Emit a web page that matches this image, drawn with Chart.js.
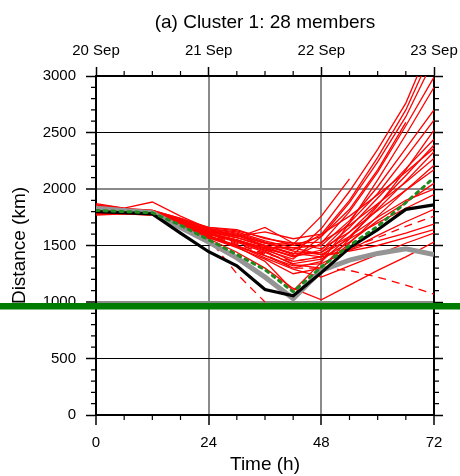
<!DOCTYPE html>
<html>
<head>
<meta charset="utf-8">
<script src="https://cdn.jsdelivr.net/npm/chart.js@4.4.1/dist/chart.umd.min.js"></script>
<style>
  html, body { margin: 0; padding: 0; background: #fff; }
</style>
</head>
<body>
<canvas id="chart" width="460" height="476"></canvas>
<script>
'use strict';

// forecast hours and the dates on the top axis
const hours = [0, 6, 12, 18, 24, 30, 36, 42, 48, 54, 60, 66, 72];
const dayLabels = ['20 Sep', '21 Sep', '22 Sep', '23 Sep'];
const threshold = 962;

// ensemble members of cluster 1 (km)
const members = [
  [1830, 1810, 1800, 1730, 1640, 1590, 1500, 1420, 1650, 1980, 2350, 2760, 3350],
  [1860, 1820, 1810, 1740, 1650, 1610, 1530, 1460, 1600, 1900, 2280, 2700, 3250],
  [1800, 1790, 1790, 1710, 1600, 1540, 1460, 1380, 1580, 1880, 2240, 2640, 3150],
  [1820, 1800, 1790, 1720, 1620, 1570, 1490, 1400, 1520, 1800, 2150, 2560, 2990],
  [1870, 1830, 1885, 1760, 1650, 1620, 1540, 1480, 1500, 1720, 2020, 2360, 2700],
  [1780, 1780, 1780, 1700, 1600, 1550, 1480, 1400, 1460, 1700, 1960, 2280, 2610],
  [1840, 1810, 1800, 1720, 1630, 1590, 1500, 1430, 1440, 1660, 1920, 2180, 2440],
  [1810, 1800, 1780, 1700, 1610, 1550, 1470, 1360, 1400, 1620, 1860, 2120, 2390],
  [1790, 1790, 1790, 1700, 1580, 1500, 1410, 1300, 1360, 1580, 1820, 2070, 2330],
  [1850, 1820, 1810, 1730, 1660, 1640, 1560, 1520, 1530, 1680, 1870, 2060, 2270],
  [1800, 1780, 1770, 1690, 1570, 1480, 1380, 1250, 1300, 1520, 1760, 1990, 2210],
  [1820, 1800, 1790, 1720, 1620, 1570, 1660, 1520, 1470, 1620, 1810, 1990, 2170],
  [1790, 1800, 1790, 1700, 1600, 1530, 1440, 1340, 1380, 1530, 1720, 1880, 2050],
  [1860, 1830, 1810, 1740, 1660, 1630, 1570, 1500, 1580, 1820, 2170, 2590, null],
  [1810, 1800, 1790, 1710, 1630, 1590, 1520, 1510, 1760, 2090, null, null, null],
  [1770, 1780, 1780, 1690, 1570, 1490, 1410, 1320, 1340, 1460, 1590, 1710, 1820],
  [1800, 1790, 1800, 1710, 1620, 1570, 1500, 1430, 1400, 1460, 1540, 1610, 1690],
  [1830, 1810, 1800, 1720, 1640, 1600, 1520, 1450, 1420, 1450, 1500, 1570, 1640],
  [1790, 1780, 1770, 1680, 1560, 1440, 1300, 1120, 1020, 1150, 1280, 1400, 1530],
  [1810, 1800, 1790, 1700, 1590, 1500, 1390, 1290, 1220, 1320, 1420, 1520, 1610],
  [1800, 1790, 1780, 1700, 1600, 1540, 1480, 1480, 1420, 1560, 1700, 1830, 1950],
  [1840, 1820, 1800, 1720, 1630, 1580, 1620, 1560, 1600, 1760, 1950, 2150, 2360],
  [1780, 1790, 1790, 1690, 1580, 1490, 1360, 1100, 1350, 1700, 2080, 2480, 2900],
  [1800, 1790, 1780, 1700, 1610, 1540, 1450, 1330, 1300, 1560, 1850, 2170, 2520],
  [1820, 1810, 1800, 1720, 1610, 1550, 1470, 1410, 1440, 1580, 1750, 1900, 2000]
];
const dashedMembers = [
  [1800, 1790, 1780, 1690, 1560, 1250, 1000, null, null, null, null, null, null],
  [1820, 1800, 1790, 1700, 1600, 1520, 1420, 1300, 1300, 1280, 1220, 1150, 1070],
  [1790, 1790, 1780, 1690, 1590, 1510, 1430, 1360, 1400, 1480, 1570, 1670, 1760]
];
const grayMean = [1830, 1810, 1790, 1660, 1530, 1390, 1220, 1030, 1280, 1370, 1430, 1470, 1420];
const blackMean = [1800, 1790, 1780, 1610, 1445, 1320, 1110, 1055, 1260, 1480, 1640, 1820, 1860];
const greenMean = [1810, 1800, 1790, 1680, 1550, 1420, 1285, 1090, 1310, 1500, 1670, 1880, 2100];

function toPoints(vals) {
  return vals.map((v, i) => ({ x: hours[i], y: v }));
}

Chart.defaults.font.family = '"Liberation Sans", Arial, sans-serif';
Chart.defaults.color = '#000';

let datasets = [];
// thick green line runs across the whole picture
datasets.push({ data: [{ x: -21, y: threshold }, { x: 79, y: threshold }], borderColor: '#007d00', borderWidth: 6.5, clip: false });
datasets.push({ data: toPoints(greenMean), borderColor: '#1f8a1f', borderWidth: 3, borderDash: [3, 5], borderCapStyle: 'round' });
datasets.push({ data: toPoints(blackMean), borderColor: '#000', borderWidth: 3.2 });
datasets.push({ data: toPoints(grayMean), borderColor: '#949494', borderWidth: 5 });
for (let i = 0; i < dashedMembers.length; i++) {
  datasets.push({ data: toPoints(dashedMembers[i]), borderColor: '#ff0000', borderWidth: 1.3, borderDash: [8, 6] });
}
for (let i = 0; i < members.length; i++) {
  datasets.push({ data: toPoints(members[i]), borderColor: '#ff0000', borderWidth: 1.3 });
}

// short minor ticks every 6 h and 100 km
const minorTicks = {
  id: 'minorTicks',
  beforeDatasetsDraw(chart) {
    const { ctx, chartArea: a, scales } = chart;
    ctx.save();
    ctx.strokeStyle = '#000';
    ctx.lineWidth = 1.2;
    ctx.beginPath();
    for (let h = 6; h < 72; h += 6) {
      if (h % 24 === 0) continue;
      const px = scales.x.getPixelForValue(h);
      ctx.moveTo(px, a.bottom); ctx.lineTo(px, a.bottom + 5);
      ctx.moveTo(px, a.top); ctx.lineTo(px, a.top - 5);
    }
    for (let d = 100; d < 3000; d += 100) {
      if (d % 500 === 0) continue;
      const py = scales.y.getPixelForValue(d);
      ctx.moveTo(a.left, py); ctx.lineTo(a.left - 5, py);
      ctx.moveTo(a.right, py); ctx.lineTo(a.right + 5, py);
    }
    ctx.stroke();
    ctx.restore();
  }
};

// fix the box sizes so the plot sits where it does in the original
function fitX(h) {
  return (s) => { s.height = h; s.paddingLeft = 0; s.paddingRight = 0; };
}
function fitY(w) {
  return (s) => { s.width = w; s.paddingTop = 0; s.paddingBottom = 0; };
}

new Chart(document.getElementById('chart'), {
  type: 'line',
  data: { datasets: datasets },
  options: {
    responsive: false,
    animation: false,
    events: [],
    elements: { point: { radius: 0 }, line: { tension: 0, fill: false } },
    plugins: { legend: { display: false }, tooltip: { enabled: false }, title: { display: false } },
    layout: { padding: 0 },
    scales: {
      x: {
        type: 'linear', position: 'bottom', min: 0, max: 72,
        afterFit: fitX(61),
        ticks: { stepSize: 24, font: { size: 15 }, padding: 9, maxRotation: 0 },
        grid: {
          color: (c) => (c.tick.value === 24 || c.tick.value === 48) ? '#8a8a8a' : '#000',
          lineWidth: 2, tickLength: 10, tickColor: '#000', tickWidth: 1.5
        },
        border: { color: '#000', width: 2 },
        title: { display: true, text: 'Time (h)', font: { size: 19 }, padding: { top: 0, bottom: 0 } }
      },
      x2: {
        type: 'linear', position: 'top', min: 0, max: 72,
        afterFit: fitX(76),
        ticks: { stepSize: 24, font: { size: 15 }, padding: 7, maxRotation: 0, callback: (v) => dayLabels[v / 24] },
        grid: { drawOnChartArea: false, tickLength: 9, tickColor: '#000', tickWidth: 1.5 },
        border: { color: '#000', width: 2 },
        title: { display: true, text: '(a) Cluster 1: 28 members', font: { size: 19 }, padding: { top: 11, bottom: 0 } }
      },
      y: {
        type: 'linear', position: 'left', min: 0, max: 3000,
        afterFit: fitY(96),
        ticks: { stepSize: 500, font: { size: 15 }, padding: 10, callback: (v) => String(v) },
        grid: {
          color: (c) => {
            const v = c.tick.value;
            if (v === 1000 || v === 2000) return '#8a8a8a';
            return '#000';
          },
          lineWidth: (c) => (c.tick.value === 1000 || c.tick.value === 2000) ? 2 : 1,
          tickLength: 10, tickColor: '#000', tickWidth: 1.5
        },
        border: { color: '#000', width: 2 },
        title: { display: true, text: 'Distance (km)', font: { size: 19 }, padding: { top: 8, bottom: 0 } }
      },
      y2: {
        type: 'linear', position: 'right', min: 0, max: 3000,
        afterFit: fitY(26),
        ticks: { stepSize: 500, callback: () => '' },
        grid: { drawOnChartArea: false, tickLength: 9, tickColor: '#000', tickWidth: 1.5 },
        border: { color: '#000', width: 2 }
      }
    }
  },
  plugins: [minorTicks]
});
</script>
</body>
</html>
